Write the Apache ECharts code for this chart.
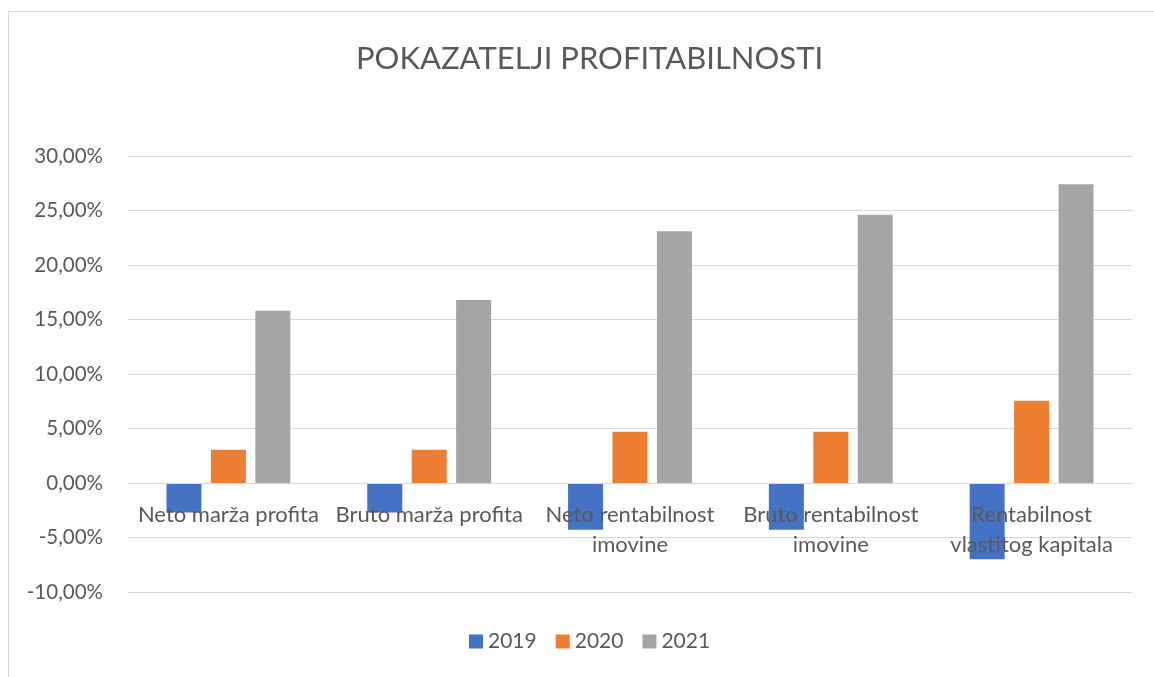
<!DOCTYPE html>
<html>
<head>
<meta charset="utf-8">
<script src="https://cdn.jsdelivr.net/npm/echarts@6/dist/echarts.min.js"></script>
<style>
    html, body { margin: 0; padding: 0; background: #fff; overflow: hidden; }
    #frame { position: absolute; left: 8px; top: 11px; width: 1170px; height: 700px; border: 1px solid #d9d9d9; box-sizing: border-box; }
    #main { position: absolute; left: 0; top: 0; width: 1154px; height: 677px; }
</style>
</head>
<body>
<div id="frame"></div>
<div id="main"></div>
<script>
// kategorije i vrijednosti (u %)
var categories = ['Neto marža profita', 'Bruto marža profita', 'Neto rentabilnost\nimovine', 'Bruto rentabilnost\nimovine', 'Rentabilnost\nvlastitog kapitala'];
var years = ['2019', '2020', '2021'];
var values2019 = [-2.7, -2.7, -4.3, -4.3, -7.0];
var values2020 = [3.05, 3.05, 4.7, 4.7, 7.55];
var values2021 = [15.8, 16.8, 23.1, 24.6, 27.4];
var colors = ['#4472C4', '#ED7D31', '#A5A5A5'];

var textColor = '#595959';
var font = 'Lato, "Open Sans", sans-serif';

var myChart = echarts.init(document.getElementById('main'));

var seriesData = [values2019, values2020, values2021];
var series = [];
years.forEach(function (year, index) {
    series.push({
        name: year,
        type: 'bar',
        data: seriesData[index],
        barWidth: 35,
        barGap: '27%',
        itemStyle: { color: colors[index] }
    });
});

var option = {
    animation: false,
    textStyle: { fontFamily: font },
    title: {
        text: 'POKAZATELJI PROFITABILNOSTI',
        left: 351,
        top: 38,
        textStyle: { color: textColor, fontSize: 31, fontWeight: 'normal', fontFamily: font }
    },
    grid: {
        left: 128,
        right: 22,
        top: 156,
        bottom: 85
    },
    legend: {
        data: years,
        bottom: 20,
        left: 464,
        icon: 'rect',
        itemWidth: 14,
        itemHeight: 14,
        itemGap: 19,
        textStyle: { color: textColor, fontSize: 21, fontFamily: font }
    },
    xAxis: {
        type: 'category',
        data: categories,
        // os kategorija stoji na nuli (0,00%)
        offset: -109,
        axisLine: { onZero: false, lineStyle: { color: '#d9d9d9' } },
        axisTick: { show: false },
        axisLabel: {
            color: textColor,
            fontSize: 22,
            fontFamily: font,
            lineHeight: 30,
            margin: 17,
            interval: 0
        },
        z: 5
    },
    yAxis: {
        type: 'value',
        min: -10,
        max: 30,
        interval: 5,
        axisLine: { show: false },
        axisTick: { show: false },
        splitLine: { lineStyle: { color: '#d9d9d9' } },
        axisLabel: {
            color: textColor,
            fontSize: 20.5,
            fontFamily: font,
            margin: 25,
            formatter: function (v) {
                return v.toFixed(2).replace('.', ',') + '%';
            }
        }
    },
    series: series
};

myChart.setOption(option);
</script>
</body>
</html>
